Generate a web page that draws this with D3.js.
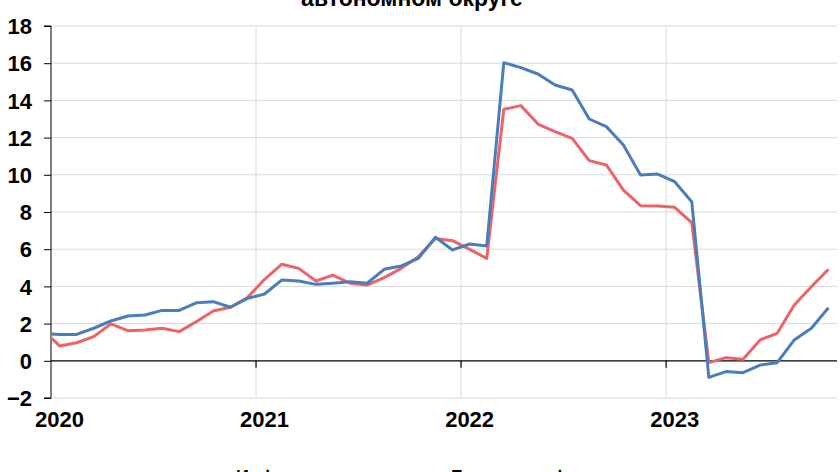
<!DOCTYPE html>
<html><head><meta charset="utf-8">
<script src="https://cdn.jsdelivr.net/npm/d3@7"></script>
<style>body{margin:0;background:#fff}svg{display:block}</style>
</head><body>
<svg id="c" width="840" height="472"></svg>
<script>
// Months from Dec 2019 (index -1) to Oct 2023 (index 45)
const months = d3.range(-1, 46);
const yearLabels = ["2020", "2021", "2022", "2023"];
const yTicks = [-2, 0, 2, 4, 6, 8, 10, 12, 14, 16, 18];
const seriesNames = ["Инфляция", "Базовая инфляция"];
const blueValues = [1.45, 1.42, 1.42, 1.75, 2.14, 2.41, 2.46, 2.71, 2.71, 3.12, 3.18, 2.88, 3.36,
  3.59, 4.34, 4.29, 4.11, 4.17, 4.25, 4.17, 4.92, 5.10, 5.51, 6.64, 5.96, 6.28, 6.17,
  16.03, 15.76, 15.42, 14.83, 14.56, 13.0, 12.59, 11.6, 9.99, 10.04, 9.63, 8.55,
  -0.89, -0.58, -0.64, -0.23, -0.1, 1.12, 1.75, 2.85];
const redValues = [1.68, 0.8, 0.97, 1.3, 1.98, 1.62, 1.66, 1.75, 1.57, 2.1, 2.68, 2.88, 3.4,
  4.38, 5.19, 4.97, 4.29, 4.61, 4.17, 4.07, 4.47, 4.97, 5.6, 6.58, 6.46, 5.99, 5.51,
  13.52, 13.72, 12.73, 12.32, 11.96, 10.76, 10.53, 9.18, 8.34, 8.32, 8.25, 7.43,
  -0.1, 0.17, 0.08, 1.12, 1.48, 3.0, 3.98, 4.92];
const title = "автономном округе";

(function () {
const svg = d3.select("#c");
const mL = 51, mR = 837, mT = 26, mB = 398;
// category centres: axis begins half a category before Jan 2020
const x = d3.scaleLinear().domain([-0.5, 45.5]).range([mL, mR]);
const y = d3.scaleLinear().domain([-2, 18]).range([mB, mT]);
const font = "'Liberation Sans', Arial, sans-serif";

svg.append("text").attr("x", 412).attr("y", 6).attr("text-anchor", "middle")
  .attr("font-family", font).attr("font-weight", "bold").attr("font-size", 23)
  .attr("fill", "#000").text(title);

// horizontal grid
svg.append("g").selectAll("line").data(yTicks.filter(d => d !== 0)).join("line")
  .attr("x1", mL).attr("x2", mR).attr("y1", d => y(d)).attr("y2", d => y(d))
  .attr("stroke", "#d9d9d9").attr("stroke-width", 1);
// vertical grid at year boundaries
const yearBounds = [11.5, 23.5, 35.5];
svg.append("g").selectAll("line").data(yearBounds).join("line")
  .attr("x1", d => x(d)).attr("x2", d => x(d)).attr("y1", mT).attr("y2", mB)
  .attr("stroke", "#d9d9d9").attr("stroke-width", 1);

// y axis
const yAxis = d3.axisLeft(y).tickValues(yTicks).tickSize(7).tickFormat(d3.format("d"));
const ya = svg.append("g").attr("transform", `translate(${mL},0)`).call(yAxis);
ya.select(".domain").attr("stroke", "#000").attr("d", `M-7,${mT}H0V${mB}H-7`);
ya.selectAll(".tick line").attr("stroke", "#000");
ya.selectAll(".tick text").attr("font-family", font).attr("font-weight", "bold")
  .attr("font-size", 22).attr("fill", "#000").attr("x", -19).attr("dy", "0.35em");

// zero line with ticks
svg.append("line").attr("x1", mL).attr("x2", mR).attr("y1", y(0)).attr("y2", y(0))
  .attr("stroke", "#000").attr("stroke-width", 1.2);
svg.append("g").selectAll("line").data(yearBounds).join("line")
  .attr("x1", d => x(d)).attr("x2", d => x(d)).attr("y1", y(0)).attr("y2", y(0) + 7)
  .attr("stroke", "#000").attr("stroke-width", 1.2);

// year labels
svg.append("g").selectAll("text").data(yearLabels).join("text")
  .attr("x", (d, i) => x(i * 12)).attr("y", 427).attr("text-anchor", "middle")
  .attr("font-family", font).attr("font-weight", "bold").attr("font-size", 22)
  .attr("fill", "#000").text(d => d);

// clip
svg.append("clipPath").attr("id", "clip").append("rect")
  .attr("x", mL).attr("y", 0).attr("width", mR - mL + 5).attr("height", 472);

const line = d3.line().x((d, i) => x(months[i])).y(d => y(d));
const plot = svg.append("g").attr("clip-path", "url(#clip)");
plot.append("path").attr("d", line(redValues)).attr("fill", "none")
  .attr("stroke", "#ec6469").attr("stroke-width", 3).attr("stroke-linejoin", "round");
plot.append("path").attr("d", line(blueValues)).attr("fill", "none")
  .attr("stroke", "#4a7ebb").attr("stroke-width", 3).attr("stroke-linejoin", "round");

// legend (mostly cut off at the bottom)
const legend = [{name: seriesNames[0], color: "#4a7ebb", lx: 205, tx: 236},
                {name: seriesNames[1], color: "#ec6469", lx: 420, tx: 451}];
const lg = svg.append("g");
lg.selectAll("line").data(legend).join("line")
  .attr("x1", d => d.lx).attr("x2", d => d.lx + 24).attr("y1", 476).attr("y2", 476)
  .attr("stroke", d => d.color).attr("stroke-width", 3);
lg.selectAll("text").data(legend).join("text")
  .attr("x", d => d.tx).attr("y", 483)
  .attr("font-family", font).attr("font-weight", "bold").attr("font-size", 18)
  .attr("fill", "#000").text(d => d.name);
})();
</script>
</body></html>
